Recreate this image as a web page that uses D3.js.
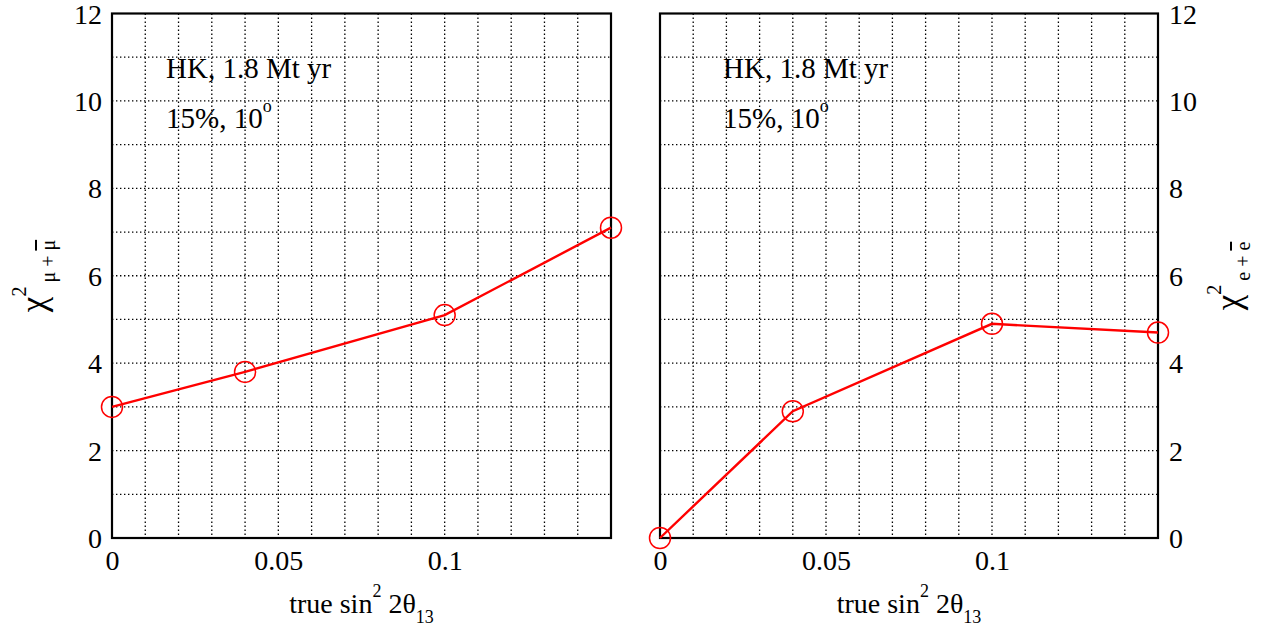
<!DOCTYPE html>
<html>
<head>
<meta charset="utf-8">
<script src="https://cdn.jsdelivr.net/npm/d3@7"></script>
</head>
<body style="margin:0">
<svg id="chart" width="1271" height="628"></svg>
<script>
// ---- data ----
const sin2Values = [0, 0.04, 0.1, 0.15];
const chi2MuValues = [3.0, 3.8, 5.1, 7.1];
const chi2EValues = [0.0, 2.9, 4.9, 4.7];
const xTickValues = [0, 0.05, 0.1];
const xTickLabels = ["0", "0.05", "0.1"];
const yTickValues = [0, 2, 4, 6, 8, 10, 12];
const xGridValues = [0.01, 0.02, 0.03, 0.04, 0.05, 0.06, 0.07, 0.08, 0.09, 0.1, 0.11, 0.12, 0.13, 0.14];
const yGridValues = [1, 2, 3, 4, 5, 6, 7, 8, 9, 10, 11];
const annotationLine1 = "HK, 1.8 Mt yr";
const annotationLine2 = "15%, 10";

const FONT = "Liberation Serif";
const svg = d3.select("#chart");
const yTop = 13.5, yBottom = 538;
const y = d3.scaleLinear().domain([0, 12]).range([yBottom, yTop]);

function drawPanel(x0, x1, values, side, annX, subA, subB) {
  const x = d3.scaleLinear().domain([0, 0.15]).range([x0, x1]);
  const g = svg.append("g");

  // grid
  g.selectAll("line.vg").data(xGridValues).join("line")
    .attr("x1", d => x(d)).attr("x2", d => x(d))
    .attr("y1", yTop).attr("y2", yBottom)
    .attr("stroke", "#000").attr("stroke-width", 1.3)
    .attr("stroke-dasharray", "1.4,2.6");
  g.selectAll("line.hg").data(yGridValues).join("line")
    .attr("x1", x0).attr("x2", x1)
    .attr("y1", d => y(d)).attr("y2", d => y(d))
    .attr("stroke", "#000").attr("stroke-width", 1.3)
    .attr("stroke-dasharray", "1.4,2.6");

  // frame
  g.append("rect").attr("x", x0).attr("y", yTop)
    .attr("width", x1 - x0).attr("height", yBottom - yTop)
    .attr("fill", "none").attr("stroke", "#000").attr("stroke-width", 2.2);

  // x axis
  const xAxis = d3.axisBottom(x).tickValues(xTickValues)
    .tickFormat((d, i) => xTickLabels[i]).tickSize(0).tickPadding(0);
  const xa = g.append("g").attr("transform", `translate(0,${yBottom})`).call(xAxis);
  xa.attr("font-family", null).attr("font-size", null);
  xa.select(".domain").remove();
  xa.selectAll("text").style("font-family", FONT).style("font-size", "28px")
    .attr("fill", "#000").attr("dy", null).attr("y", 32);

  // y axis
  const yAxis = (side === "left" ? d3.axisLeft(y) : d3.axisRight(y))
    .tickValues(yTickValues).tickSize(0).tickPadding(side === "left" ? 10 : 11);
  const ya = g.append("g").attr("transform", `translate(${side === "left" ? x0 : x1},0)`).call(yAxis);
  ya.attr("font-family", null).attr("font-size", null);
  ya.select(".domain").remove();
  ya.selectAll("text").style("font-family", FONT).style("font-size", "28px")
    .attr("fill", "#000").attr("dy", "0.34em");

  // x label
  const xl = g.append("text").attr("x", (x0 + x1) / 2).attr("y", 613)
    .attr("text-anchor", "middle").style("font-size", "28px").style("font-family", FONT);
  xl.append("tspan").text("true sin");
  xl.append("tspan").style("font-size", "18px").attr("dy", -16).text("2");
  xl.append("tspan").attr("dy", 16).text(" 2θ");
  xl.append("tspan").style("font-size", "18px").attr("dy", 10).text("13");

  // y label
  const lx = side === "left" ? 45 : 1240;
  const yl = g.append("text").attr("transform", `translate(${lx},276) rotate(-90)`)
    .attr("text-anchor", "middle").style("font-family", FONT);
  yl.append("tspan").style("font-size", "35px").text("χ");
  yl.append("tspan").style("font-size", "20px").attr("dy", -19).text("2");
  yl.append("tspan").style("font-size", "20px").attr("dx", 4).attr("dy", 29).text(subA);
  yl.append("tspan").style("font-size", "20px").style("text-decoration", "overline").text(subB);

  // annotations
  g.append("text").attr("x", annX).attr("y", 78).style("font-size", "29px").style("font-family", FONT)
    .text(annotationLine1);
  const a2 = g.append("text").attr("x", annX).attr("y", 128).style("font-size", "29px").style("font-family", FONT);
  a2.append("tspan").text(annotationLine2);
  a2.append("tspan").style("font-size", "18px").attr("dy", -16).text("o");

  // line + markers
  const pts = sin2Values.map((d, i) => [d, values[i]]);
  g.append("path").datum(pts)
    .attr("d", d3.line().x(d => x(d[0])).y(d => y(d[1])))
    .attr("fill", "none").attr("stroke", "#ff0000").attr("stroke-width", 2.4);
  g.selectAll("circle.m").data(pts).join("circle")
    .attr("cx", d => x(d[0])).attr("cy", d => y(d[1])).attr("r", 10.5)
    .attr("fill", "none").attr("stroke", "#ff0000").attr("stroke-width", 1.5);
}

drawPanel(112, 611, chi2MuValues, "left", 166, "μ + ", "μ");
drawPanel(660, 1158, chi2EValues, "right", 723, "e + ", "e");
</script>
</body>
</html>
